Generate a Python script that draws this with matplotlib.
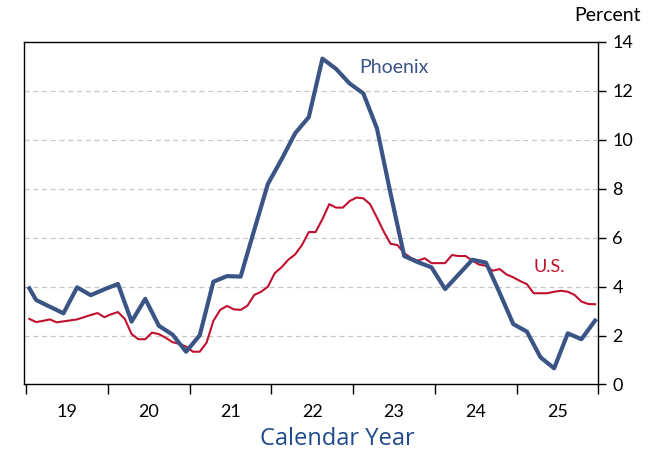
import matplotlib
matplotlib.use("Agg")
import matplotlib.pyplot as plt
from matplotlib.ticker import FixedLocator, NullFormatter

# ---------------- data ----------------
us_start_year = 2019
us_values = [
    2.68, 2.55, 2.60, 2.66, 2.54, 2.58, 2.62, 2.66, 2.75, 2.84, 2.92, 2.75,   # 2019
    2.87, 2.96, 2.68, 2.06, 1.85, 1.85, 2.12, 2.06, 1.91, 1.73, 1.66, 1.55,   # 2020
    1.34, 1.34, 1.71, 2.60, 3.05, 3.21, 3.07, 3.05, 3.22, 3.66, 3.79, 4.00,   # 2021
    4.55, 4.79, 5.10, 5.32, 5.70, 6.23, 6.23, 6.76, 7.37, 7.23, 7.23, 7.50,   # 2022
    7.64, 7.61, 7.37, 6.82, 6.25, 5.75, 5.70, 5.37, 5.17, 5.06, 5.16, 4.96,   # 2023
    4.96, 4.96, 5.29, 5.25, 5.25, 5.06, 4.90, 4.85, 4.65, 4.72, 4.50, 4.38,   # 2024
    4.23, 4.10, 3.73, 3.73, 3.73, 3.79, 3.83, 3.79, 3.66, 3.39, 3.29, 3.28,   # 2025
]

phx_months = [
    "2019-01", "2019-02", "2019-04", "2019-06", "2019-08", "2019-10", "2019-12",
    "2020-02", "2020-04", "2020-06", "2020-08", "2020-10", "2020-12",
    "2021-02", "2021-04", "2021-06", "2021-08", "2021-10", "2021-12",
    "2022-02", "2022-04", "2022-06", "2022-08", "2022-10", "2022-12",
    "2023-02", "2023-04", "2023-06", "2023-08", "2023-10", "2023-12",
    "2024-02", "2024-04", "2024-06", "2024-08", "2024-10", "2024-12",
    "2025-02", "2025-04", "2025-06", "2025-08", "2025-10", "2025-12",
]
phx_values = [
    3.93, 3.45, 3.18, 2.91, 3.97, 3.65, 3.89,
    4.11, 2.57, 3.50, 2.40, 2.04, 1.34,
    2.01, 4.20, 4.43, 4.41, 6.32, 8.20,
    9.20, 10.27, 10.93, 13.32, 12.90, 12.30,
    11.90, 10.47, 7.80, 5.25, 5.00, 4.79,
    3.90, 4.50, 5.10, 4.98, 3.75, 2.47,
    2.16, 1.11, 0.66, 2.09, 1.85, 2.61,
]

year_labels = ["19", "20", "21", "22", "23", "24", "25"]
y_ticks = [0, 2, 4, 6, 8, 10, 12, 14]

# ---------------- positions ----------------
def month_pos(year, month):
    return year + (month - 0.5) / 12.0

us_x = [month_pos(us_start_year + i // 12, i % 12 + 1) for i in range(len(us_values))]
phx_x = [month_pos(int(s[:4]), int(s[5:])) for s in phx_months]

# ---------------- figure ----------------
PHX_COLOR = "#3A5585"
US_COLOR = "#C0102E"
TITLE_COLOR = "#1F4A8C"
FONT = ["Lato", "DejaVu Sans"]

fig = plt.figure(figsize=(6.62, 4.51), dpi=100)
ax = fig.add_axes([0.0355, 0.1475, 0.8685, 0.7594])

ax.plot(us_x, us_values, color=US_COLOR, lw=1.5, zorder=3, solid_joinstyle="round")
ax.plot(phx_x, phx_values, color=PHX_COLOR, lw=3.0, zorder=4, solid_joinstyle="round")

ax.set_xlim(2018.97, 2026.0)
ax.set_ylim(0, 14)

# y axis on the right
ax.yaxis.tick_right()
ax.set_yticks(y_ticks)
ax.set_yticklabels([str(v) for v in y_ticks], fontsize=13, family=FONT)
ax.tick_params(axis="y", which="major", direction="out", length=6, width=1, pad=4,
               left=False, right=True, colors="black")

# x axis: ticks at year boundaries, labels at mid-year
years = list(range(2019, 2019 + len(year_labels) + 1))
ax.xaxis.set_major_locator(FixedLocator(years))
ax.xaxis.set_major_formatter(NullFormatter())
ax.xaxis.set_minor_locator(FixedLocator([y + 0.5 for y in years[:-1]]))
ax.set_xticklabels(year_labels, minor=True, fontsize=13, family=FONT)
ax.tick_params(axis="x", which="major", direction="out", length=7, width=1)
ax.tick_params(axis="x", which="minor", length=0, pad=14)

# grid
for v in y_ticks[1:-1]:
    ax.axhline(v, color="#C8C8C8", lw=0.9, ls=(0, (4, 3)), zorder=1)

for sp in ax.spines.values():
    sp.set_color("black")
    sp.set_linewidth(1.0)

# annotations
ax.text(2023.08, 12.95, "Phoenix", color=PHX_COLOR, fontsize=14, family=FONT,
        ha="left", va="center")
ax.text(2025.4, 4.8, "U.S.", color=US_COLOR, fontsize=13, family=FONT,
        ha="center", va="center")
fig.text(0.968, 0.965, "Percent", fontsize=14, family=FONT, ha="right", va="center")
fig.text(0.51, 0.027, "Calendar Year", fontsize=17, family=["Open Sans", "DejaVu Sans"],
         color=TITLE_COLOR, ha="center", va="center")

fig.savefig("out.png", dpi=100)
